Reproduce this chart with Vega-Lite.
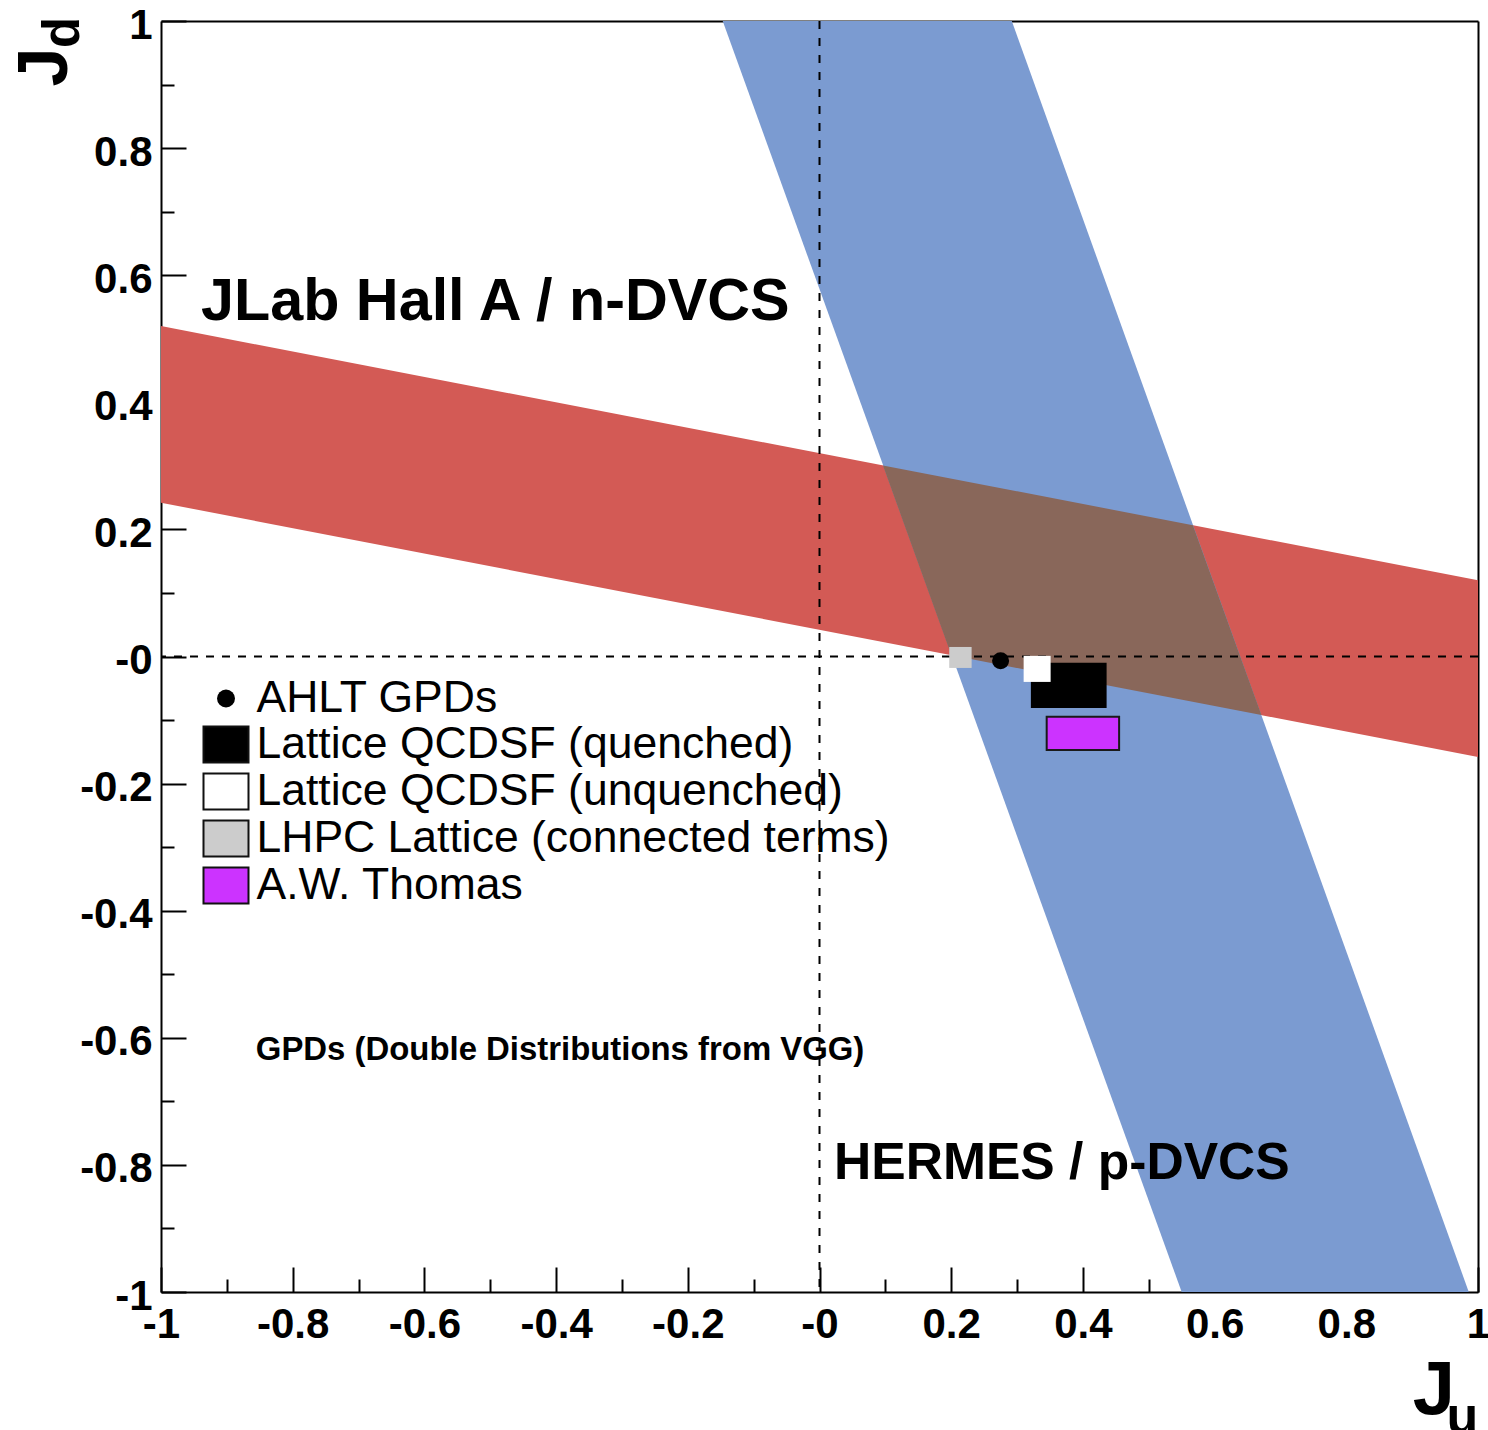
{
  "$schema": "https://vega.github.io/schema/vega-lite/v6.json",
  "width": 1317,
  "height": 1271,
  "autosize": {"type": "none"},
  "padding": {"left": 161, "top": 21, "right": 10, "bottom": 138},
  "background": "white",
  "config": {
    "view": {"stroke": null},
    "font": "Liberation Sans",
    "axis": {"grid": false, "title": null, "zindex": 2}
  },
  "datasets": {
    "jlab": [
      {"Ju": -1, "Jd_lo": 0.242, "Jd_hi": 0.520},
      {"Ju": 1, "Jd_lo": -0.158, "Jd_hi": 0.120}
    ],
    "hermes": [
      {"Jd": -1, "Ju_lo": 0.550, "Ju_hi": 0.986},
      {"Jd": 1, "Ju_lo": -0.147, "Ju_hi": 0.292}
    ],
    "overlap": [
      {"Jd": -0.0922, "Ju_lo": 0.6711, "Ju_hi": 0.6711},
      {"Jd": 0.0019, "Ju_lo": 0.2003, "Ju_hi": 0.6383},
      {"Jd": 0.2066, "Ju_lo": 0.1291, "Ju_hi": 0.5671},
      {"Jd": 0.3007, "Ju_lo": 0.0964, "Ju_hi": 0.0964}
    ],
    "boxes": [
      {"series": "LHPC Lattice (connected terms)", "Ju_lo": 0.197, "Ju_hi": 0.231, "Jd_lo": -0.018, "Jd_hi": 0.015},
      {"series": "Lattice QCDSF (quenched)", "Ju_lo": 0.321, "Ju_hi": 0.436, "Jd_lo": -0.081, "Jd_hi": -0.010},
      {"series": "Lattice QCDSF (unquenched)", "Ju_lo": 0.310, "Ju_hi": 0.351, "Jd_lo": -0.040, "Jd_hi": 0.001},
      {"series": "A.W. Thomas", "Ju_lo": 0.345, "Ju_hi": 0.455, "Jd_lo": -0.147, "Jd_hi": -0.095}
    ],
    "ahlt": [
      {"series": "AHLT GPDs", "Ju": 0.275, "Jd": -0.0066}
    ],
    "one": [{}]
  },
  "layer": [
    {
      "data": {"name": "jlab"},
      "mark": {"type": "area", "orient": "vertical", "color": "#d35a55", "opacity": 1},
      "encoding": {
        "x": {"field": "Ju", "type": "quantitative", "scale": {"domain": [-1, 1], "nice": false, "zero": false},
          "axis": {"orient": "bottom", "values": [-1, -0.8, -0.6, -0.4, -0.2, 0, 0.2, 0.4, 0.6, 0.8, 1], "labels": false, "ticks": true, "tickSize": -25, "tickWidth": 2, "tickColor": "#000000", "domain": true, "domainColor": "#000000", "domainWidth": 2}},
        "y": {"field": "Jd_lo", "type": "quantitative", "scale": {"domain": [-1, 1], "nice": false, "zero": false},
          "axis": {"orient": "left", "values": [-1, -0.8, -0.6, -0.4, -0.2, 0, 0.2, 0.4, 0.6, 0.8, 1], "labels": false, "ticks": true, "tickSize": -25, "tickWidth": 2, "tickColor": "#000000", "domain": true, "domainColor": "#000000", "domainWidth": 2}},
        "y2": {"field": "Jd_hi"}
      }
    },
    {
      "data": {"name": "hermes"},
      "mark": {"type": "area", "orient": "horizontal", "color": "#7b9bd1", "opacity": 1},
      "encoding": {
        "y": {"field": "Jd", "type": "quantitative", "scale": {"domain": [-1, 1], "nice": false, "zero": false},
          "axis": {"orient": "left", "values": [-0.9, -0.7, -0.5, -0.3, -0.1, 0.1, 0.3, 0.5, 0.7, 0.9], "labels": false, "ticks": true, "tickSize": -13, "tickWidth": 2, "tickColor": "#000000", "domain": false}},
        "x": {"field": "Ju_lo", "type": "quantitative", "scale": {"domain": [-1, 1], "nice": false, "zero": false},
          "axis": {"orient": "bottom", "values": [-0.9, -0.7, -0.5, -0.3, -0.1, 0.1, 0.3, 0.5, 0.7, 0.9], "labels": false, "ticks": true, "tickSize": -13, "tickWidth": 2, "tickColor": "#000000", "domain": false}},
        "x2": {"field": "Ju_hi"}
      }
    },
    {
      "data": {"name": "overlap"},
      "mark": {"type": "area", "orient": "horizontal", "color": "#89675a", "opacity": 1},
      "encoding": {
        "y": {"field": "Jd", "type": "quantitative", "sort": null, "scale": {"domain": [-1, 1], "nice": false, "zero": false},
          "axis": {"orient": "left", "values": [-1, -0.8, -0.6, -0.4, -0.2, 0, 0.2, 0.4, 0.6, 0.8, 1], "ticks": false, "domain": false, "labels": true, "labelFontSize": 42, "labelFontWeight": "bold", "labelColor": "#000000", "labelPadding": 9, "labelOffset": 4, "labelFlush": false, "labelOverlap": false, "labelBaseline": "middle",
            "labelExpr": "datum.value === 0 ? '-0' : (datum.value < 0 ? '-' : '') + format(abs(datum.value), '.1~f')"}},
        "x": {"field": "Ju_lo", "type": "quantitative", "scale": {"domain": [-1, 1], "nice": false, "zero": false},
          "axis": {"orient": "bottom", "values": [-1, -0.8, -0.6, -0.4, -0.2, 0, 0.2, 0.4, 0.6, 0.8, 1], "ticks": false, "domain": false, "labels": true, "labelFontSize": 42, "labelFontWeight": "bold", "labelColor": "#000000", "labelPadding": 12, "labelFlush": false, "labelOverlap": false,
            "labelExpr": "datum.value === 0 ? '-0' : (datum.value < 0 ? '-' : '') + format(abs(datum.value), '.1~f')"}},
        "x2": {"field": "Ju_hi"}
      }
    },
    {
      "data": {"name": "one"},
      "mark": {"type": "rule", "color": "#000000", "strokeWidth": 2, "strokeDash": [8, 9]},
      "encoding": {
        "x": {"datum": 0, "type": "quantitative", "scale": {"domain": [-1, 1], "nice": false, "zero": false},
          "axis": {"orient": "top", "ticks": false, "labels": false, "domain": true, "domainColor": "#000000", "domainWidth": 2}}
      }
    },
    {
      "data": {"name": "one"},
      "mark": {"type": "rule", "color": "#000000", "strokeWidth": 2, "strokeDash": [8, 8]},
      "encoding": {
        "y": {"datum": 0, "type": "quantitative", "scale": {"domain": [-1, 1], "nice": false, "zero": false},
          "axis": {"orient": "right", "ticks": false, "labels": false, "domain": true, "domainColor": "#000000", "domainWidth": 2}}
      }
    },
    {
      "data": {"name": "boxes"},
      "mark": {"type": "rect", "strokeWidth": 2},
      "encoding": {
        "x": {"field": "Ju_lo", "type": "quantitative", "scale": {"domain": [-1, 1], "nice": false, "zero": false}, "axis": null},
        "x2": {"field": "Ju_hi"},
        "y": {"field": "Jd_lo", "type": "quantitative", "scale": {"domain": [-1, 1], "nice": false, "zero": false}, "axis": null},
        "y2": {"field": "Jd_hi"},
        "fill": {
          "field": "series", "type": "nominal",
          "scale": {
            "domain": ["AHLT GPDs", "Lattice QCDSF (quenched)", "Lattice QCDSF (unquenched)", "LHPC Lattice (connected terms)", "A.W. Thomas"],
            "range": ["#000000", "#000000", "#ffffff", "#cccccc", "#cc33ff"]
          },
          "legend": {
            "title": null,
            "orient": "none",
            "legendX": 41.5,
            "legendY": 654,
            "padding": 0,
            "labelFont": "Liberation Sans",
            "labelFontSize": 44.5,
            "labelColor": "#000000",
            "labelLimit": 2000,
            "labelOffset": 7,
            "rowPadding": 1,
            "symbolType": "M-1,-0.8H1V0.8H-1Z",
            "symbolSize": 2025,
            "symbolStrokeWidth": 2,
            "symbolStrokeColor": "#111111",
            "encode": {
              "symbols": {
                "update": {
                  "shape": {"signal": "datum.value === 'AHLT GPDs' ? 'circle' : 'M-1,-0.8H1V0.8H-1Z'"},
                  "size": {"signal": "datum.value === 'AHLT GPDs' ? 324 : 2025"},
                  "stroke": {"signal": "datum.value === 'AHLT GPDs' ? 'transparent' : '#111111'"},
                  "strokeWidth": {"value": 2},
                  "opacity": {"value": 1}
                }
              }
            }
          }
        },
        "stroke": {
          "condition": {"test": "datum.series === 'A.W. Thomas'", "value": "#1a1a1a"},
          "value": "transparent"
        }
      }
    },
    {
      "data": {"name": "ahlt"},
      "mark": {"type": "circle", "size": 289, "opacity": 1, "color": "#000000"},
      "encoding": {
        "x": {"field": "Ju", "type": "quantitative", "scale": {"domain": [-1, 1], "nice": false, "zero": false}, "axis": null},
        "y": {"field": "Jd", "type": "quantitative", "scale": {"domain": [-1, 1], "nice": false, "zero": false}, "axis": null}
      }
    },
    {
      "data": {"name": "one"},
      "mark": {"type": "text", "text": "JLab Hall A / n-DVCS", "fontWeight": "bold", "fontSize": 59.3, "align": "left", "baseline": "alphabetic", "color": "#000000"},
      "encoding": {
        "x": {"datum": -0.9393, "type": "quantitative", "scale": {"domain": [-1, 1], "nice": false, "zero": false}, "axis": null},
        "y": {"datum": 0.5295, "type": "quantitative", "scale": {"domain": [-1, 1], "nice": false, "zero": false}, "axis": null}
      }
    },
    {
      "data": {"name": "one"},
      "mark": {"type": "text", "text": "HERMES / p-DVCS", "fontWeight": "bold", "fontSize": 51.6, "align": "left", "baseline": "alphabetic", "color": "#000000"},
      "encoding": {
        "x": {"datum": 0.022, "type": "quantitative", "scale": {"domain": [-1, 1], "nice": false, "zero": false}, "axis": null},
        "y": {"datum": -0.822, "type": "quantitative", "scale": {"domain": [-1, 1], "nice": false, "zero": false}, "axis": null}
      }
    },
    {
      "data": {"name": "one"},
      "mark": {"type": "text", "text": "GPDs (Double Distributions from VGG)", "fontWeight": "bold", "fontSize": 32.9, "align": "left", "baseline": "alphabetic", "color": "#000000"},
      "encoding": {
        "x": {"datum": -0.856, "type": "quantitative", "scale": {"domain": [-1, 1], "nice": false, "zero": false}, "axis": null},
        "y": {"datum": -0.635, "type": "quantitative", "scale": {"domain": [-1, 1], "nice": false, "zero": false}, "axis": null}
      }
    },
    {
      "data": {"name": "one"},
      "mark": {"type": "text", "text": "J", "fontWeight": "bold", "fontSize": 76, "align": "right", "baseline": "alphabetic", "color": "#000000"},
      "encoding": {
        "x": {"datum": 0.9651, "type": "quantitative", "scale": {"domain": [-1, 1], "nice": false, "zero": false}, "axis": null},
        "y": {"datum": -1.192, "type": "quantitative", "scale": {"domain": [-1, 1], "nice": false, "zero": false}, "axis": null}
      }
    },
    {
      "data": {"name": "one"},
      "mark": {"type": "text", "text": "u", "fontWeight": "bold", "fontSize": 52, "align": "left", "baseline": "alphabetic", "color": "#000000"},
      "encoding": {
        "x": {"datum": 0.9522, "type": "quantitative", "scale": {"domain": [-1, 1], "nice": false, "zero": false}, "axis": null},
        "y": {"datum": -1.2213, "type": "quantitative", "scale": {"domain": [-1, 1], "nice": false, "zero": false}, "axis": null}
      }
    },
    {
      "data": {"name": "one"},
      "mark": {"type": "text", "text": "J", "fontWeight": "bold", "fontSize": 70, "align": "center", "baseline": "alphabetic", "angle": 270, "color": "#000000"},
      "encoding": {
        "x": {"datum": -1.1427, "type": "quantitative", "scale": {"domain": [-1, 1], "nice": false, "zero": false}, "axis": null},
        "y": {"datum": 0.9276, "type": "quantitative", "scale": {"domain": [-1, 1], "nice": false, "zero": false}, "axis": null}
      }
    },
    {
      "data": {"name": "one"},
      "mark": {"type": "text", "text": "d", "fontWeight": "bold", "fontSize": 51, "align": "center", "baseline": "alphabetic", "angle": 270, "color": "#000000"},
      "encoding": {
        "x": {"datum": -1.1245, "type": "quantitative", "scale": {"domain": [-1, 1], "nice": false, "zero": false}, "axis": null},
        "y": {"datum": 0.9819, "type": "quantitative", "scale": {"domain": [-1, 1], "nice": false, "zero": false}, "axis": null}
      }
    }
  ],
  "resolve": {"axis": {"x": "independent", "y": "independent"}}
}
